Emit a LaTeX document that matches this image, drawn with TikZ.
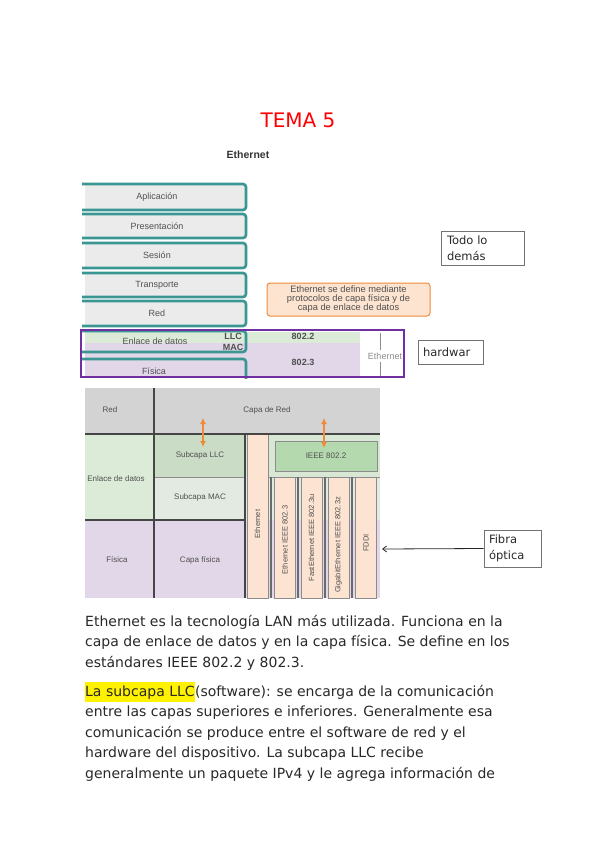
\documentclass[tikz,border=0pt]{standalone}
\usepackage{fontspec}
\setmainfont{DejaVu Sans}
\newfontfamily\dgfont{Liberation Sans}
\usetikzlibrary{arrows.meta}
\definecolor{teal1}{RGB}{58,150,146}
\definecolor{purp}{RGB}{112,48,160}
\definecolor{lgreen}{RGB}{220,234,216}
\definecolor{llcgreen}{RGB}{202,220,198}
\definecolor{macgreen}{RGB}{227,234,225}
\definecolor{lav}{RGB}{225,215,232}
\definecolor{peach}{RGB}{253,228,210}
\definecolor{ieeeg}{RGB}{181,217,174}
\definecolor{ieeebg}{RGB}{217,232,213}
\definecolor{gray1}{RGB}{211,211,211}
\definecolor{orng}{RGB}{240,138,58}
\definecolor{obox}{RGB}{253,228,208}
\definecolor{labg}{RGB}{80,80,80}
\definecolor{divg}{RGB}{70,70,70}
\definecolor{txt}{RGB}{40,40,40}
\tikzset{
  dglab/.style={font=\dgfont\fontsize{8}{9}\selectfont, text=labg, inner sep=0pt},
  toplab/.style={font=\dgfont\fontsize{9}{10}\selectfont, text=labg, inner sep=0pt},
  topbold/.style={font=\dgfont\bfseries\fontsize{9}{10}\selectfont, text=labg, inner sep=0pt},
  vlab/.style={font=\dgfont\fontsize{7.5}{8}\selectfont, text=labg, inner sep=0pt, rotate=90},
  layerfill/.style={fill=black!8},
  layerline/.style={draw=teal1, line width=2.6pt, rounded corners=3pt},
  note/.style={draw=black!55, line width=0.8pt, font=\fontsize{11.5}{16}\selectfont, text=txt, align=left, inner sep=0pt},
  body/.style={font=\fontsize{14}{16}\selectfont, text=txt, anchor=base west, inner xsep=0pt, inner ysep=0pt},
  divline/.style={draw=divg, line width=1.6pt},
  colbox/.style={fill=peach, draw=black!45, line width=0.5pt},
  oarrow/.style={draw=orng, line width=1.5pt, {Latex[length=6pt,width=6pt]}-{Latex[length=6pt,width=6pt]}},
}
\begin{document}
\begin{tikzpicture}[x=1pt,y=-1pt]
\useasboundingbox (0,0) rectangle (599,848);
% title
\node[text=red, font=\fontsize{20}{24}\selectfont, inner sep=0pt] (title) at (298,120) {TEMA 5};
\node[font=\dgfont\bfseries\fontsize{10.5}{12}\selectfont, text=black!80, inner sep=0pt] (eth) at (248,155) {Ethernet};
% --- top diagram: bands
\fill[lgreen] (85,332) rectangle (360,343);
\fill[lav] (85,343) rectangle (360,376);
\draw[black!45, line width=0.8pt] (380,333) -- (380,350);
\draw[black!45, line width=0.8pt] (380,362) -- (380,376);
\begin{scope}
\clip (360,331) rectangle (403,376);
\node[toplab, text=black!45] (ethv) at (385,356) {Ethernet};
\end{scope}
% layer boxes
\foreach \ya/\yb/\t/\n in {184/210/Aplicación/apl,214/238/Presentación/pre,243/268/Sesión/ses,273/297/Transporte/tra,301/326/Red/red}{
  \fill[layerfill] (85,\ya) rectangle (246,\yb);
  \draw[layerline] (82,\ya) -- (246,\ya) -- (246,\yb) -- (82,\yb);
  \node[toplab] (\n) at (157,{(\ya+\yb)/2}) {\t};
}
\draw[layerline] (82,331) -- (246,331) -- (246,352) -- (82,352);
\draw[layerline] (82,359) -- (246,359) -- (246,382);
\fill[white] (0,378.5) rectangle (599,384);
\node[toplab] (enl) at (155,341) {Enlace de datos};
\node[topbold] (llc) at (233,336) {LLC};
\node[topbold] (mac) at (233,347) {MAC};
\node[toplab] (fis) at (154,371) {Física};
\node[topbold] (n8022) at (303,336) {802.2};
\node[topbold] (n8023) at (303,362) {802.3};
% purple frame
\draw[purp, line width=2pt] (81,330) rectangle (404,377);
% orange note
\node[draw=orng, fill=obox, line width=1pt, rounded corners=3pt, minimum width=163pt, minimum height=33pt, align=center,
      font=\dgfont\fontsize{9.3}{9}\selectfont, text=labg, inner sep=0pt] (onote) at (348.5,299.5)
      {Ethernet se define mediante\\protocolos de capa física y de\\capa de enlace de datos};
% side notes
\node[note, minimum width=83pt, minimum height=34pt, text width=71pt] (todo) at (482.5,248) {Todo lo\\demás};
\node[note, minimum width=65pt, minimum height=24pt, text width=55pt] (hw) at (450.5,352) {hardwar};
\node[note, minimum width=57pt, minimum height=37pt, text width=47pt] (fibra) at (512.5,548.5) {Fibra\\óptica};
% --- bottom diagram
\fill[gray1] (85,388) rectangle (380,434);
\fill[lgreen] (85,434) rectangle (154,520);
\fill[lav] (85,520) rectangle (154,598);
\fill[llcgreen] (154,434) rectangle (245,477);
\fill[macgreen] (154,477) rectangle (245,520);
\fill[lav] (154,520) rectangle (245,598);
\fill[ieeebg] (245,434) rectangle (380,477);
\fill[macgreen] (245,477) rectangle (380,520);
\fill[lav] (245,520) rectangle (380,598);
\draw[black!45, line width=0.8pt] (245,477) -- (154,477);
\draw[black!45, line width=0.8pt] (268,477) -- (380,477);
\node[fill=ieeeg, draw=black!45, line width=1pt, minimum width=102pt, minimum height=30pt, inner sep=0pt,
      font=\dgfont\fontsize{8}{9}\selectfont, text=labg] (ieee) at (326,456) {IEEE 802.2};
\node[colbox, minimum width=21pt, minimum height=164pt, inner sep=0pt] (cEth) at (257.5,516) {};
\node[vlab] at (257.5,524) {Ethernet};
\foreach \cx/\lbl/\cy/\n in {285/Ethernet IEEE 802.3/540/cA, 311.5/FastEthernet IEEE 802.3u/538/cB, 338.5/GigabitEthernet IEEE 802.3z/545/cC, 366/FDDI/543/cD}{
  \node[colbox, minimum width=21pt, minimum height=121pt, inner sep=0pt] (\n) at (\cx,537.5) {};
  \node[vlab] at (\cx,\cy) {\lbl};
}
\foreach \lx in {271,298,325,352}{
  \draw[divg!80, line width=1.2pt] (\lx,477) -- (\lx,598);
}
\draw[divline] (154,388) -- (154,598);
\draw[divline] (85,434) -- (380,434);
\draw[divline] (85,520) -- (245,520);
\draw[divline] (245,434) -- (245,598);
\node[dglab] (bred) at (110,410) {Red};
\node[dglab] (bcred) at (267,410) {Capa de Red};
\node[dglab] (benl) at (116,479) {Enlace de datos};
\node[dglab] (bllc) at (200,455) {Subcapa LLC};
\node[dglab] (bmac) at (200,497) {Subcapa MAC};
\node[dglab] (bfis) at (117,560) {Física};
\node[dglab] (bcfis) at (200,560) {Capa física};
\coordinate (a1t) at (203,418); \coordinate (a1b) at (203,447);
\coordinate (a2t) at (324,418); \coordinate (a2b) at (324,448);
\draw[oarrow] (a1t) -- (a1b);
\draw[oarrow] (a2t) -- (a2b);
% fibra arrow
\coordinate (ftip) at (382,549);
\draw[black!85, line width=0.8pt, -{Straight Barb[length=4pt,width=6pt]}] (fibra.west) -- (ftip);
% --- body text
\node[body] (l1) at (85,626) {Ethernet es la tecnología LAN más utilizada. Funciona en la};
\node[body] (l2) at (85,646.5) {capa de enlace de datos y en la capa física. Se define en los};
\node[body] (l3) at (85,667) {estándares IEEE 802.2 y 802.3.};
\node[body, fill=yellow, inner ysep=3.5pt] (l4a) at (85,696) {La subcapa LLC};
\node[body] (l4b) at (l4a.base east) {(software): se encarga de la comunicación};
\node[body] (l5) at (85,716.5) {entre las capas superiores e inferiores. Generalmente esa};
\node[body] (l6) at (85,737) {comunicación se produce entre el software de red y el};
\node[body] (l7) at (85,757.5) {hardware del dispositivo. La subcapa LLC recibe};
\node[body] (l8) at (85,778) {generalmente un paquete IPv4 y le agrega información de};
\end{tikzpicture}
\end{document}
